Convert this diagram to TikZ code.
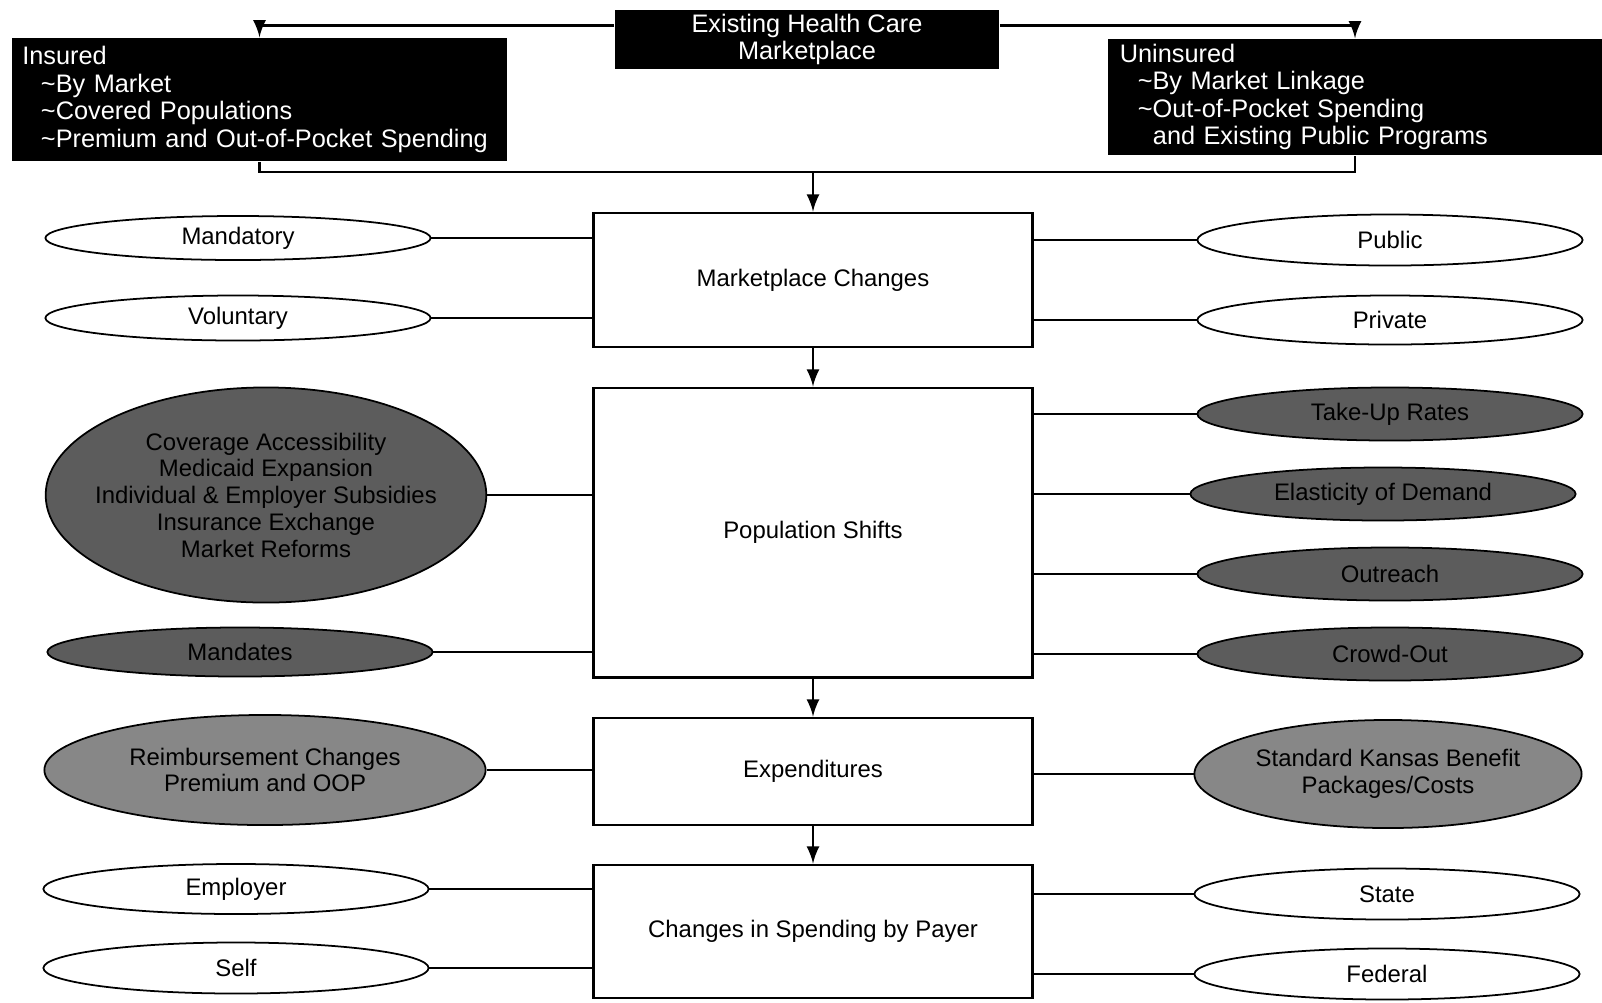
\documentclass[tikz,border=0pt]{standalone}
\usepackage{fontspec}
\setmainfont{Liberation Sans}
\usetikzlibrary{calc}
\usetikzlibrary{shapes}
\usetikzlibrary{arrows}

\begin{document}
\begin{tikzpicture}[x=0.01cm,y=-0.01cm]
            \tikzstyle{blackbox} = [fill=black, text=white, inner ysep=0pt, font=\fontsize{7.2}{7.8}\selectfont]
            \tikzstyle{stage} = [draw, line width=0.8pt, fill=white, minimum width=4.39cm, font=\fontsize{6.8}{7.6}\selectfont]
            \tikzstyle{oval} = [draw, ellipse, line width=0.5pt, fill=white, inner sep=0pt, minimum width=3.85cm, minimum height=0.51cm, font=\fontsize{6.8}{7.6}\selectfont]
            \tikzstyle{darkoval} = [oval, fill=black!64]
            \tikzstyle{greyoval} = [oval, fill=black!47]
            \tikzstyle{arr} = [->, >=latex, line width=0.7pt]
            \tikzstyle{link} = [line width=0.6pt]
            \useasboundingbox (0,0) rectangle (1602,1002);

            \node (top) [blackbox, align=center, minimum width=3.84cm, minimum height=0.59cm] at (807,39.5) {Existing Health Care\\Marketplace};
            \node (insured) [blackbox, align=left, inner xsep=0.105cm, text width=4.74cm, minimum height=1.23cm] at (259.5,99.5)
                {Insured\\\hspace*{5.3pt}\textasciitilde By Market\\\hspace*{5.3pt}\textasciitilde Covered Populations\\\hspace*{5.3pt}\textasciitilde Premium and Out-of-Pocket Spending};
            \node (uninsured) [blackbox, align=left, inner xsep=0.12cm, text width=4.70cm, minimum height=1.16cm] at (1355,97)
                {Uninsured\\\hspace*{5.1pt}\textasciitilde By Market Linkage\\\hspace*{5.1pt}\textasciitilde Out-of-Pocket Spending\\\hspace*{9.4pt}and Existing Public Programs};
            \coordinate (merge) at (813,172);
            \draw [arr] ([yshift=-0.16cm]top.north west) -| (insured.north);
            \draw [arr] ([yshift=-0.16cm]top.north east) -| (uninsured.north);
            \draw [link] (insured.south) |- (merge) -| (uninsured.south);

            \node (market) [stage, minimum height=1.34cm] at (813,280) {Marketplace Changes};
            \node (popshift) [stage, minimum height=2.89cm] at (813,532.5) {Population Shifts};
            \node (expend) [stage, minimum height=1.07cm] at (813,771.5) {Expenditures};
            \node (payer) [stage, minimum height=1.33cm] at (813,931.5) {Changes in Spending by Payer};
            \draw (merge) edge[arr] (market.north);
            \draw (market.south) edge[arr] (popshift.north);
            \draw (popshift.south) edge[arr] (expend.north);
            \draw (expend.south) edge[arr] (payer.north);

            \node (mandatory) [oval, minimum height=0.44cm] at (238,238) {Mandatory};
            \node (voluntary) [oval, minimum height=0.45cm] at (238,318) {Voluntary};
            \node (access) [darkoval, align=center, inner xsep=-0.15cm, minimum width=4.39cm, minimum height=2.15cm] at (266,495)
                {Coverage Accessibility\\Medicaid Expansion\\Individual \& Employer Subsidies\\Insurance Exchange\\Market Reforms};
            \node (mandates) [darkoval, minimum height=0.49cm] at (240,652) {Mandates};
            \node (reimb) [greyoval, align=center, minimum width=4.41cm, minimum height=1.10cm] at (265,770) {Reimbursement Changes\\Premium and OOP};
            \node (employer) [oval, minimum height=0.50cm] at (236,889) {Employer};
            \node (self) [oval] at (236,968) {Self};

            \node (public) [oval] at (1390,240) {Public};
            \node (private) [oval, minimum height=0.49cm] at (1390,320) {Private};
            \node (takeup) [darkoval, minimum height=0.53cm] at (1390,414) {Take-Up Rates};
            \node (elastic) [darkoval, minimum height=0.53cm] at (1383,494) {Elasticity of Demand};
            \node (outreach) [darkoval, minimum height=0.53cm] at (1390,574) {Outreach};
            \node (crowd) [darkoval, minimum height=0.53cm] at (1390,654) {Crowd-Out};
            \node (kansas) [greyoval, align=center, minimum width=3.87cm, minimum height=1.08cm] at (1388,774) {Standard Kansas Benefit\\Packages/Costs};
            \node (state) [oval] at (1387,894) {State};
            \node (federal) [oval] at (1387,974) {Federal};

            \draw [link] (mandatory.east) -- (mandatory -| market.west);
            \draw [link] (voluntary.east) -- (voluntary -| market.west);
            \draw [link] (access.east) -- (access -| popshift.west);
            \draw [link] (mandates.east) -- (mandates -| popshift.west);
            \draw [link] (reimb.east) -- (reimb -| expend.west);
            \draw [link] (employer.east) -- (employer -| payer.west);
            \draw [link] (self.east) -- (self -| payer.west);

            \draw [link] (public.west) -- (public -| market.east);
            \draw [link] (private.west) -- (private -| market.east);
            \draw [link] (takeup.west) -- (takeup -| popshift.east);
            \draw [link] (elastic.west) -- (elastic -| popshift.east);
            \draw [link] (outreach.west) -- (outreach -| popshift.east);
            \draw [link] (crowd.west) -- (crowd -| popshift.east);
            \draw [link] (kansas.west) -- (kansas -| expend.east);
            \draw [link] (state.west) -- (state -| payer.east);
            \draw [link] (federal.west) -- (federal -| payer.east);
        \end{tikzpicture}
\end{document}
